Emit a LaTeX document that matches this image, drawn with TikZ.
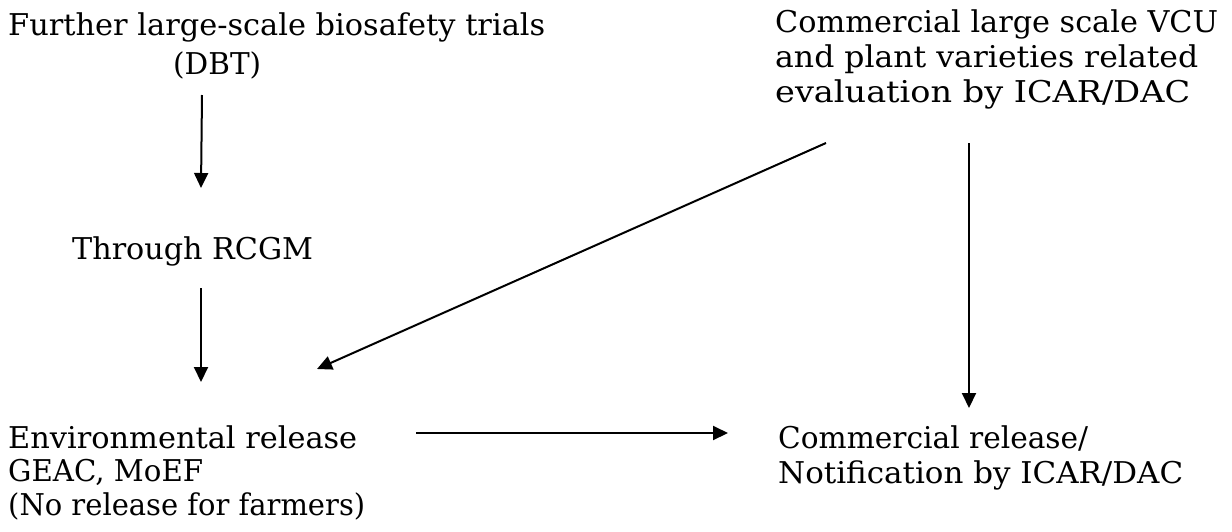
\documentclass[tikz,border=0pt]{standalone}
\usepackage{fontspec}
\setmainfont{DejaVu Serif}
\usepackage{graphicx}
\newcommand\fitw[2]{\resizebox{#1}{\height}{#2}}
\usetikzlibrary{arrows.meta}
\tikzset{
  lbl/.style={anchor=base west, inner sep=0pt, align=left, font=\fontsize{30}{35}\selectfont},
  arr/.style={line width=2pt, -{Triangle[length=15pt,width=14pt]}}
}
\begin{document}
\begin{tikzpicture}[x=1pt,y=-1pt]
\useasboundingbox (0,0) rectangle (1232,531);
\node[lbl, font=\fontsize{30}{39}\selectfont] (dbt) at (8,74) {\fitw{537pt}{Further large-scale biosafety trials}\\\hspace*{165pt}\fitw{88pt}{(DBT)}};
\node[lbl] (rcgm) at (72,259) {\fitw{241pt}{Through RCGM}};
\node[lbl, font=\fontsize{30}{33.5}\selectfont] (env) at (8,515) {\fitw{349pt}{Environmental release}\\\fitw{195pt}{GEAC, MoEF}\\\fitw{357pt}{(No release for farmers)}};
\node[lbl] (vcu) at (775,102) {\fitw{443pt}{Commercial large scale VCU}\\\fitw{423pt}{and plant varieties related}\\\fitw{415pt}{evaluation by ICAR/DAC}};
\node[lbl] (com) at (778,483) {\fitw{310pt}{Commercial release/}\\\fitw{405pt}{Notification by ICAR/DAC}};
\coordinate (a1s) at (202,95);
\coordinate (a1e) at (201,188);
\coordinate (a2s) at (201,288);
\coordinate (a2e) at (201,382);
\coordinate (a3s) at (826,143);
\coordinate (a3e) at (317,369);
\coordinate (a4s) at (969,143);
\coordinate (a4e) at (969,408);
\coordinate (a5s) at (416,433);
\coordinate (a5e) at (728,433);
\draw[arr] (a1s) -- (a1e);
\draw[arr] (a2s) -- (a2e);
\draw[arr] (a3s) -- (a3e);
\draw[arr] (a4s) -- (a4e);
\draw[arr] (a5s) -- (a5e);
\end{tikzpicture}
\end{document}
